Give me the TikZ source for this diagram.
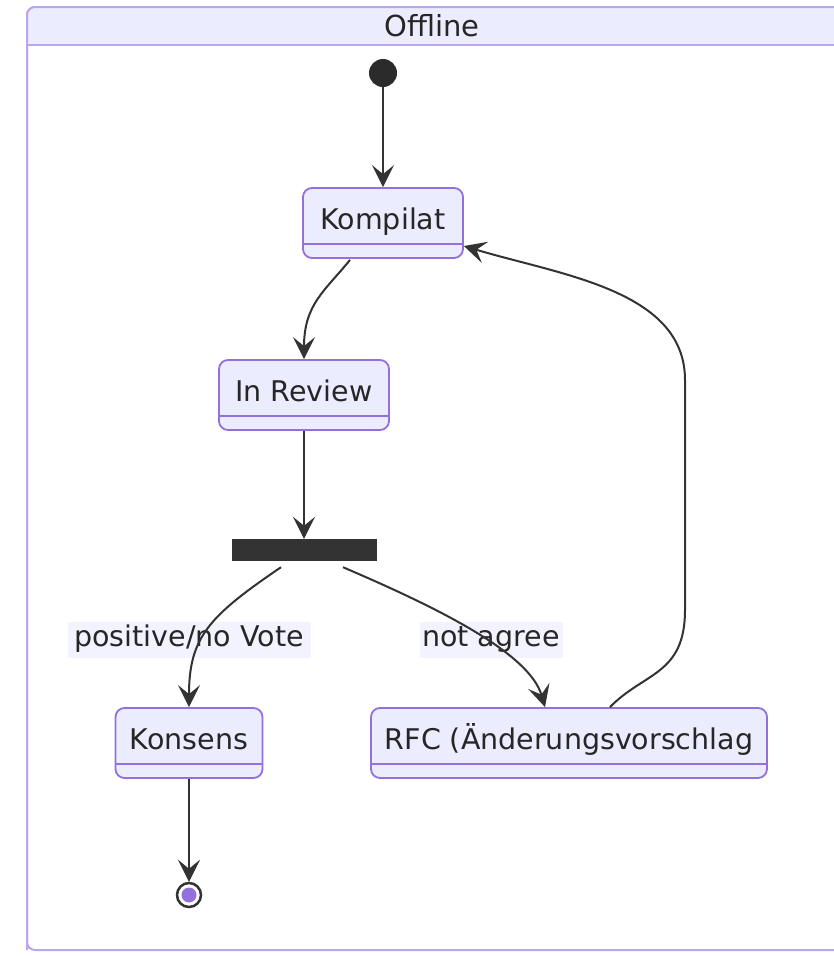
\documentclass[tikz,border=0pt]{standalone}
\usepackage{fontspec}
\setmainfont{DejaVu Sans}
\usetikzlibrary{arrows.meta,calc}
\definecolor{boxfill}{HTML}{ECECFF}
\definecolor{boxline}{HTML}{9370DB}
\definecolor{frameline}{HTML}{BBA5EC}
\definecolor{ink}{HTML}{333333}
\definecolor{labelbg}{HTML}{F3F3FF}
\tikzset{
  statebox/.style={draw=boxline, fill=boxfill, line width=1.8pt, rounded corners=9pt,
    minimum height=70pt, text height=20pt, text depth=8pt, inner xsep=0pt,
    font=\fontsize{28.5}{30}\selectfont, text=black!85,
    append after command={\pgfextra{\let\mynode\tikzlastnode}
      ($(\mynode.south west)+(0,-15)$) edge[draw=boxline, line width=1.8pt] ($(\mynode.south east)+(0,-15)$)}},
  edgelabel/.style={fill=labelbg, inner sep=0pt, minimum height=36pt, text height=20pt, text depth=7pt,
    font=\fontsize{28.5}{30}\selectfont, text=black!85},
  conn/.style={draw=ink, line width=2pt, -{Stealth[length=22pt,width=22pt,inset=9pt]}},
}
\begin{document}
\begin{tikzpicture}[x=1pt,y=-1pt]
\useasboundingbox (0,0) rectangle (833,956);
% outer frame
\draw[frameline, line width=2pt, fill=white, rounded corners=8pt] (27,7) rectangle (845,950);
\begin{scope}
\clip[rounded corners=8pt] (27,7) rectangle (845,950);
\fill[boxfill] (27,7) rectangle (845,45);
\end{scope}
\draw[frameline, line width=2pt, rounded corners=8pt] (27,950) -- (27,7) -- (845,7);
\draw[frameline, line width=2pt] (27,45) -- (845,45);
\node[font=\fontsize{29}{30}\selectfont, text=black!85, text height=21pt, text depth=6pt] (title) at (432,29) {Offline};

% start / end
\node[circle, fill=ink!85!black, minimum size=28pt, inner sep=0pt] (start) at (383,73) {};
\node[circle, draw=ink, line width=2.5pt, fill=white, minimum size=24pt, inner sep=0pt] (end) at (189,895) {};
\node[circle, fill=boxline, minimum size=15pt, inner sep=0pt] (endin) at (189,895) {};

% states
\node[statebox, minimum width=160pt] (komp) at (383,223) {Kompilat};
\node[statebox, minimum width=170pt] (rev) at (304,395) {In Review};
\node[fill=ink, minimum width=145pt, minimum height=22pt, inner sep=0pt] (fork) at (304,550) {};
\node[statebox, minimum width=147pt] (kons) at (189,743) {Konsens};
\node[statebox, minimum width=396pt] (rfc) at (569,743) {RFC (Änderungsvorschlag};

% edge labels
\node[edgelabel, minimum width=243pt] (l1) at (189,640) {positive/no Vote};
\node[edgelabel, minimum width=143pt] (l2) at (491,640) {not agree};

% connectors
\draw[conn] (start) -- (komp);
\draw[conn] ($(komp.south)+(-33,1)$) .. controls ($(komp.south)+(-58,32)$) and ($(rev.north)+(0,-55)$) .. (rev.north);
\draw[conn] (rev) -- (fork);
\draw[conn] ($(fork.south)+(-23,6)$) .. controls ($(fork.south)+(-95,55)$) and ($(kons.north)+(0,-70)$) .. (kons.north);
\draw[conn] ($(fork.south)+(39,6)$) .. controls ($(fork.south)+(130,45)$) and ($(rfc.north)+(-40,-55)$) .. ($(rfc.north)+(-24,0)$);
\draw[conn] (kons) -- (end);
\coordinate (bend1) at (685,610);
\coordinate (bend2) at (685,380);
\draw[conn] ($(rfc.north)+(41,0)$) .. controls ($(rfc.north)+(75,-35)$) and (685,675) .. (bend1) -- (bend2)
  .. controls (685,290) and (560,275) .. ($(komp.east)+(0,23)$);
\end{tikzpicture}
\end{document}
